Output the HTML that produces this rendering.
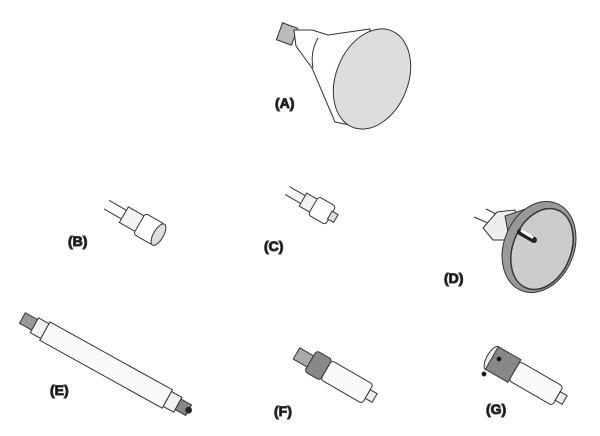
<!DOCTYPE html>
<html><head><style>html,body{margin:0;padding:0;background:#fff;width:600px;height:436px;overflow:hidden}
text{font-family:"Liberation Sans",sans-serif;font-weight:bold;font-size:14px;fill:#111}</style></head>
<body>
<svg width="600" height="436" viewBox="0 0 600 436" xmlns="http://www.w3.org/2000/svg" stroke="#333" stroke-width="1">
<!-- A -->
<g>
<rect x="279" y="25" width="16" height="18" fill="#bbb" transform="rotate(20 287 34)"/>
<path d="M294 30 L312 30 L328 35 L370 29 L365 128 L335 122 L312 68 L296 46 Z" fill="#fff"/>
<path d="M318 38 Q310 52 313 68" fill="none"/>
<ellipse cx="372" cy="79" rx="36" ry="52" transform="rotate(22 372 79)" fill="#ddd"/>
<text x="275" y="108">(A)</text>
</g>
<!-- B -->
<g transform="rotate(30 145 228)">
<line x1="100" y1="222" x2="120" y2="222"/><line x1="100" y1="232" x2="120" y2="232"/>
<rect x="120" y="218" width="20" height="18" fill="#f3f3f3"/>
<rect x="138" y="215" width="22" height="24" rx="3" fill="#fff"/>
<ellipse cx="160" cy="227" rx="5" ry="12" fill="#ddd"/>
</g>
<text x="68" y="246">(B)</text>
<!-- C -->
<g transform="rotate(30 320 210)">
<line x1="282" y1="205" x2="300" y2="205"/><line x1="282" y1="214" x2="300" y2="214"/>
<rect x="300" y="202" width="14" height="15" fill="#f3f3f3"/>
<rect x="312" y="199" width="20" height="21" rx="3" fill="#fff"/>
<rect x="331" y="205" width="7" height="9" fill="#ddd"/>
</g>
<text x="264" y="251">(C)</text>
<!-- D -->
<g>
<line x1="474" y1="217" x2="490" y2="224"/><line x1="486" y1="209" x2="500" y2="216"/>
<path d="M483 228 L497 212 L515 210 L518 240 L493 240 Z" fill="#eee"/>
<path d="M505 216 L540 204 L535 288 L515 270 Z" fill="#999"/>
<ellipse cx="539" cy="247" rx="35" ry="47" transform="rotate(22 539 247)" fill="#999"/>
<ellipse cx="542" cy="249" rx="29" ry="42" transform="rotate(22 542 249)" fill="#ccc" stroke-width="1.5"/>
<line x1="520" y1="232" x2="534" y2="240" stroke="#222" stroke-width="6" stroke-linecap="round"/>
<line x1="522" y1="231" x2="532" y2="237" stroke="#fff" stroke-width="3" stroke-linecap="round"/>
<text x="444" y="283">(D)</text>
</g>
<!-- E -->
<g transform="rotate(29 105 365)">
<rect x="10" y="358" width="14" height="12" fill="#999"/>
<rect x="24" y="356" width="12" height="17" fill="#f3f3f3"/>
<rect x="36" y="354" width="140" height="21" fill="#fafafa"/>
<rect x="176" y="356" width="12" height="17" fill="#f3f3f3"/>
<rect x="188" y="358" width="12" height="12" fill="#888"/>
<circle cx="200" cy="364" r="3" fill="#222"/>
</g>
<text x="50" y="395">(E)</text>
<!-- F -->
<g transform="rotate(30 340 378)">
<rect x="290" y="372" width="16" height="13" fill="#aaa"/>
<rect x="306" y="366" width="18" height="24" rx="3" fill="#888"/>
<rect x="324" y="367" width="48" height="22" rx="3" fill="#fafafa"/>
<rect x="372" y="373" width="8" height="10" fill="#eee"/>
</g>
<text x="274" y="416">(F)</text>
<!-- G -->
<g transform="rotate(30 530 380)">
<ellipse cx="486" cy="380" rx="5" ry="13" fill="#eee"/>
<rect x="486" y="367" width="26" height="26" fill="#888"/>
<rect x="512" y="369" width="50" height="22" rx="3" fill="#fafafa"/>
<rect x="562" y="375" width="8" height="10" fill="#eee"/>
</g>
<circle cx="499" cy="359" r="2" fill="#000"/><circle cx="484" cy="374" r="2" fill="#000"/>
<text x="486" y="414">(G)</text>
</svg>
</body></html>
